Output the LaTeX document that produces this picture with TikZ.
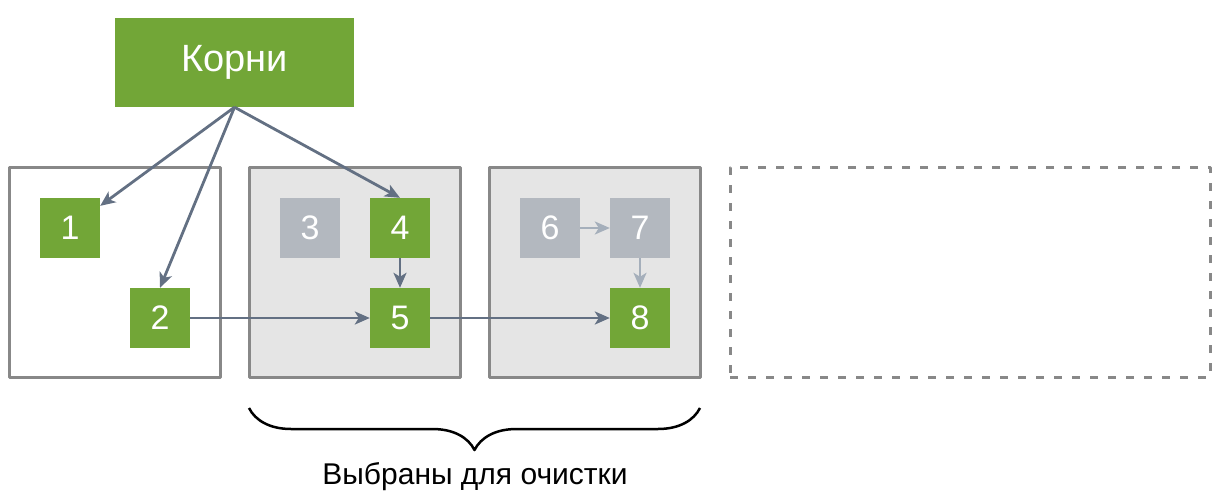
\documentclass[tikz,border=0pt]{standalone}
\usepackage{fontspec}
\setmainfont{Liberation Sans}
\usetikzlibrary{arrows.meta,decorations.pathreplacing}
\definecolor{objgreen}{HTML}{72A637}
\definecolor{objgray}{HTML}{B3B8BF}
\definecolor{regfill}{HTML}{E5E5E5}
\definecolor{regline}{HTML}{888888}
\definecolor{refline}{HTML}{637083}
\definecolor{deadline}{HTML}{A5AFBB}
\tikzset{
  obj/.style={fill=objgreen, minimum size=60pt, inner sep=0pt, text=white,
    font=\fontsize{34}{40}\selectfont},
  deadobj/.style={obj, fill=objgray},
  region/.style={draw=regline, line width=3pt, minimum width=211pt,
    minimum height=210pt, inner sep=0pt},
  ref/.style={draw=refline, line width=2.8pt,
    -{Stealth[length=15pt,width=13pt,inset=4pt]}},
  deadref/.style={ref, draw=deadline, line width=2.3pt}
}
\begin{document}
\begin{tikzpicture}[x=1pt, y=-1pt, line join=round]
 \useasboundingbox (0,0) rectangle (1220,500);
 % regions
 \node[region] (reg1) at (114.5,272) {};
 \node[region, fill=regfill] (reg2) at (354.5,272) {};
 \node[region, fill=regfill] (reg3) at (594.5,272) {};
 \node[region, minimum width=480pt, dash pattern=on 8pt off 10pt] (reg4) at (970,272) {};
 % roots
 \node[obj, minimum width=239pt, minimum height=89pt,
   font=\fontsize{38}{44}\selectfont] (roots) at (234.5,62.5) {Корни};
 % objects
 \node[obj] (n1) at (70,228) {1};
 \node[obj] (n2) at (160,318) {2};
 \node[deadobj] (n3) at (310,228) {3};
 \node[obj] (n4) at (400,228) {4};
 \node[obj] (n5) at (400,318) {5};
 \node[deadobj] (n6) at (550,228) {6};
 \node[deadobj] (n7) at (640,228) {7};
 \node[obj] (n8) at (640,318) {8};
 % references
 \draw[ref] (roots.south) -- (n1);
 \draw[ref] (roots.south) -- (n2.north);
 \draw[ref] (roots.south) -- (n4.north);
 \draw[ref] (n4) -- (n5);
 \draw[ref] (n2) -- (n5);
 \draw[ref] (n5) -- (n8);
 \draw[deadref] (n6) -- (n7);
 \draw[deadref] (n7) -- (n8);
 % brace
 \coordinate (bl) at (249,408);
 \coordinate (br) at (700,408);
 \draw[line width=2.5pt, decorate, decoration={brace, mirror, amplitude=42pt}] (bl) -- (br);
 \node[font=\fontsize{30}{35}\selectfont] (label) at (475,477) {Выбраны для очистки};
\end{tikzpicture}
\end{document}
